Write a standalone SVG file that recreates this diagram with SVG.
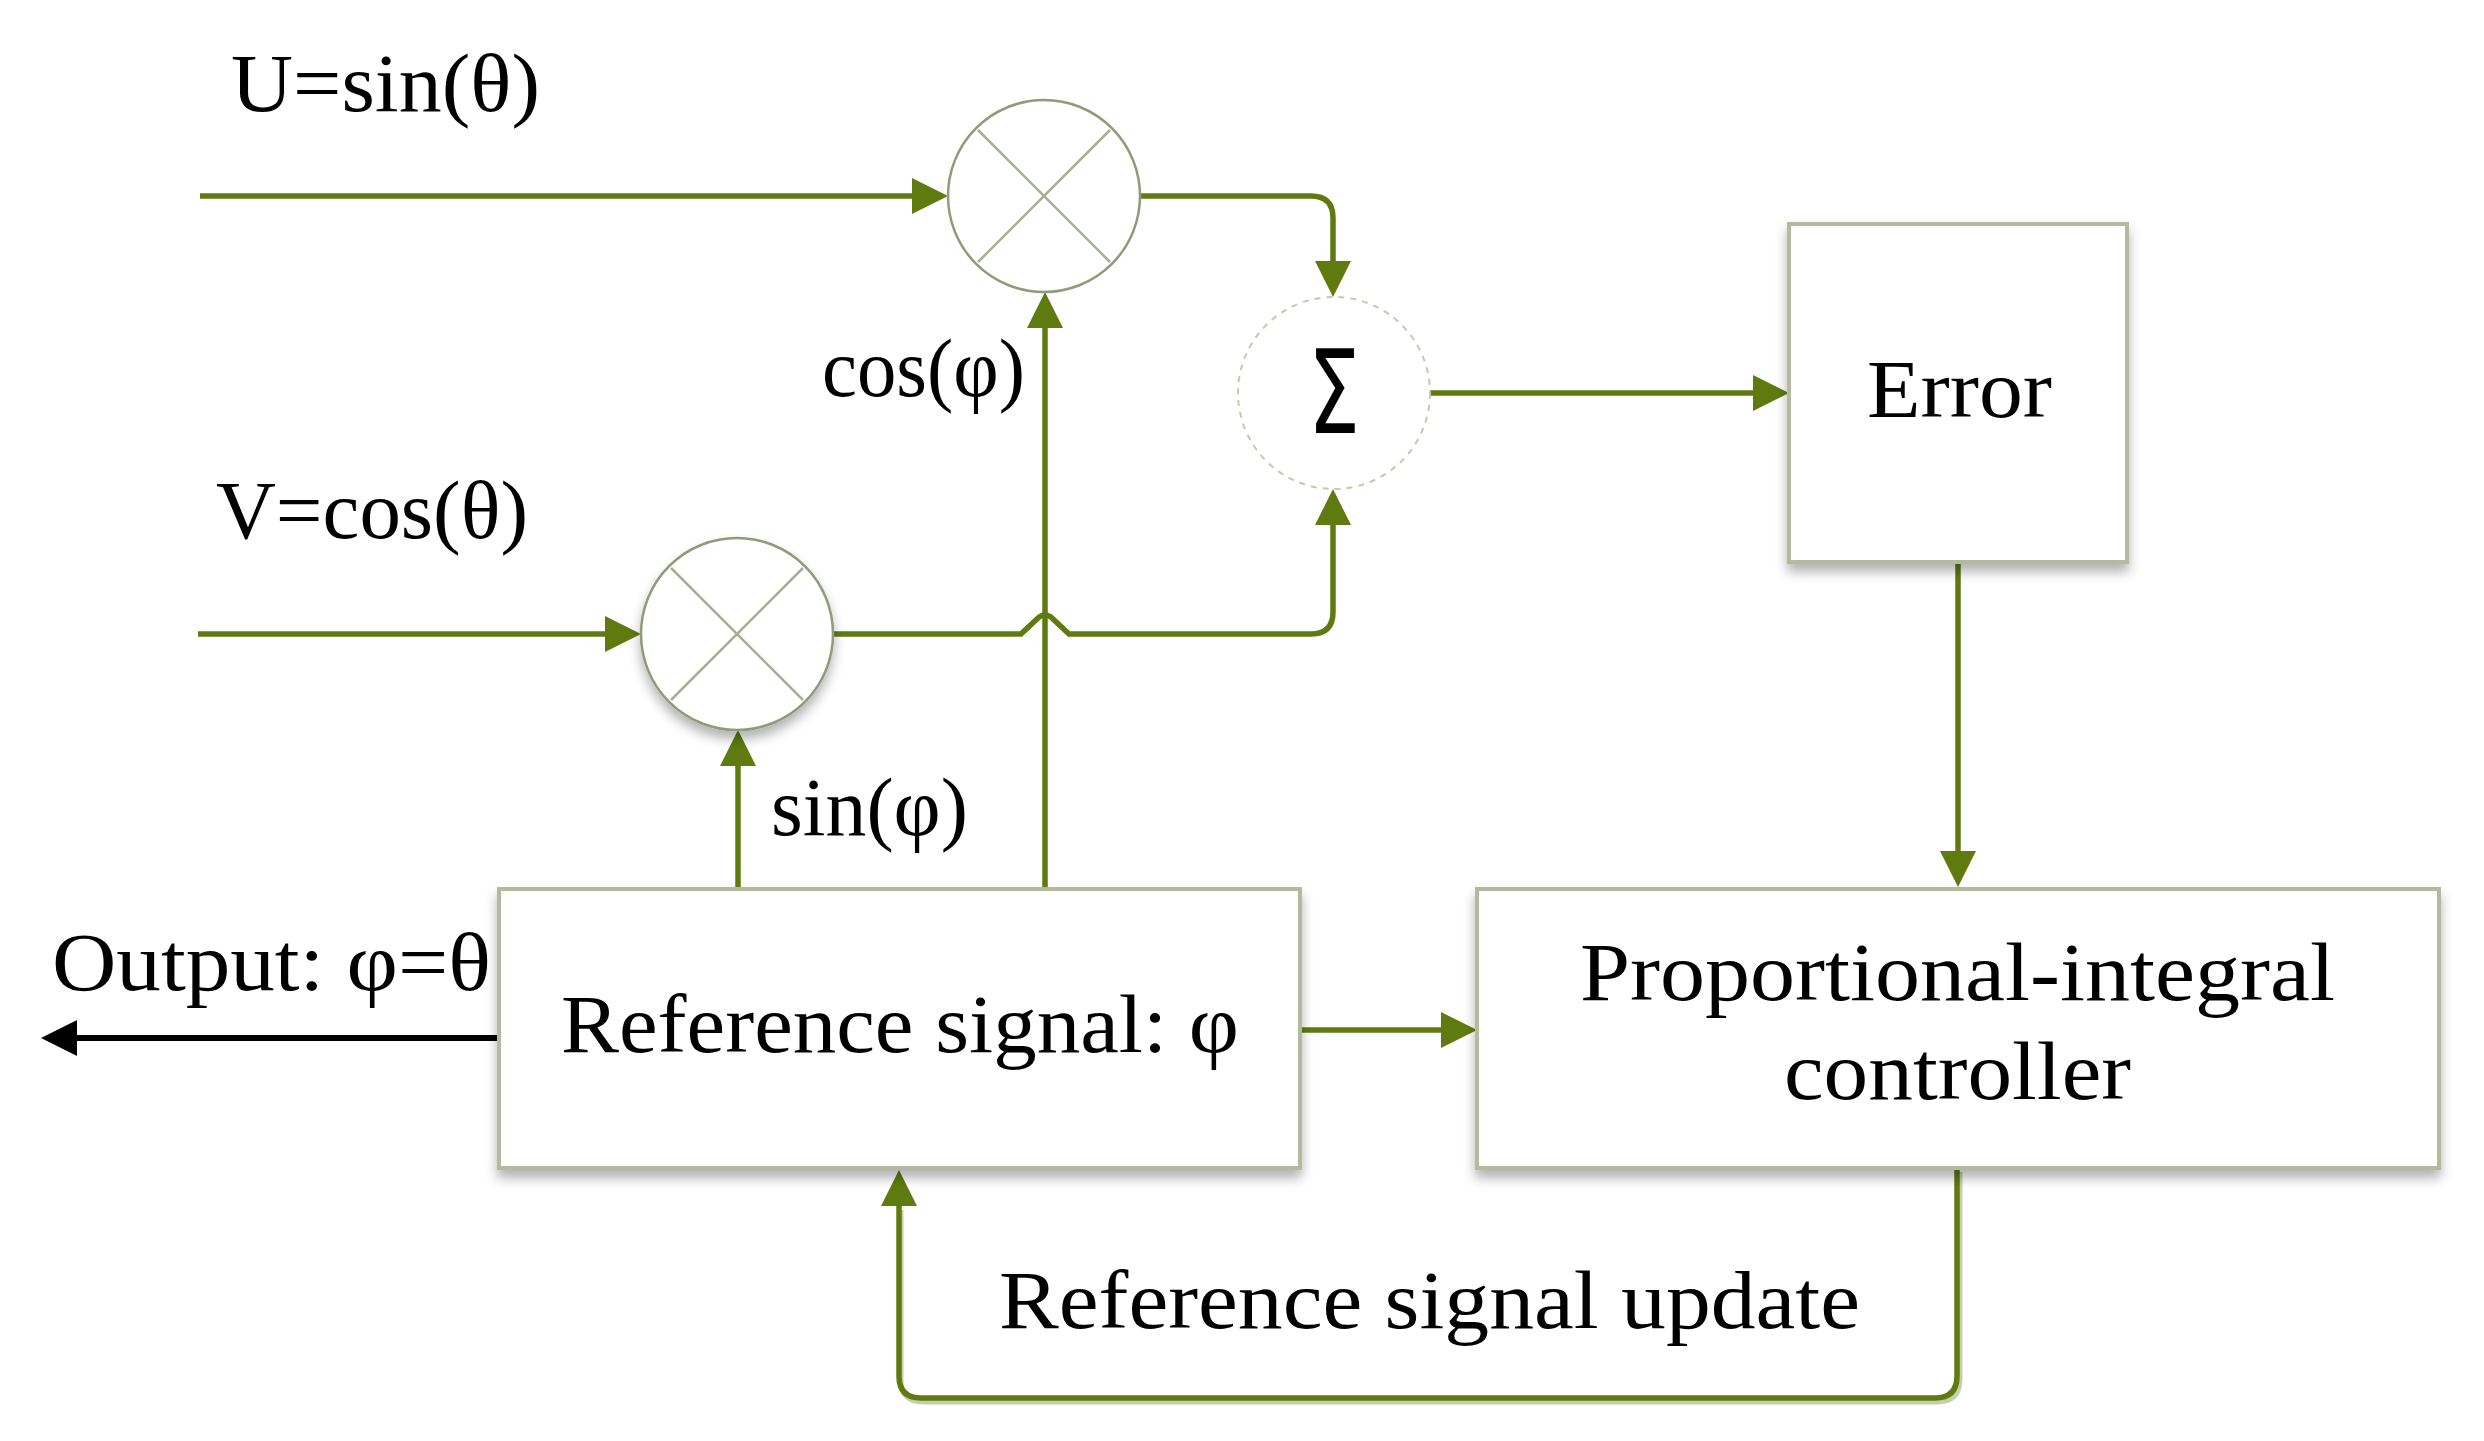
<svg xmlns="http://www.w3.org/2000/svg" width="2484" height="1441" viewBox="0 0 2484 1441">
<style>
.t{font-family:"Liberation Serif","Times New Roman",serif;font-size:83px;fill:#000}
.box{fill:#fff;stroke:#b3bb9c;stroke-width:4}
.c{fill:none;stroke:#5f7b10;stroke-width:5.5}
.cs{fill:none;stroke:#c6cfad;stroke-width:5}
.mul{fill:#fff;stroke:#8f9b78;stroke-width:2.5}
.x{stroke:#a7b092;stroke-width:2.5}
</style>
<defs>
<marker id="ah" markerUnits="userSpaceOnUse" viewBox="0 0 36 36" markerWidth="36" markerHeight="36" refX="30" refY="18" orient="auto">
<path d="M0,0 L36,18 L0,36 z" fill="#5f7b10"/>
</marker>
<marker id="ahk" markerUnits="userSpaceOnUse" viewBox="0 0 36 36" markerWidth="36" markerHeight="36" refX="30" refY="18" orient="auto">
<path d="M0,0 L36,18 L0,36 z" fill="#000"/>
</marker>
<filter id="sh" x="-20%" y="-20%" width="140%" height="150%">
<feDropShadow dx="0" dy="8" stdDeviation="6" flood-color="#000" flood-opacity="0.3"/>
</filter>
</defs>

<g id="connectors">
<path class="c" d="M200,196 H942" marker-end="url(#ah)"/>
<path class="c" d="M198,634 H635" marker-end="url(#ah)"/>
<path class="c" d="M1141,196 H1311 Q1333,196 1333,218 V291" marker-end="url(#ah)"/>
<path class="c" d="M834,634 H1021 L1038,618 Q1045,612 1052,618 L1069,634 H1311 Q1333,634 1333,612 V495" marker-end="url(#ah)"/>
<path class="c" d="M738,889 V736" marker-end="url(#ah)"/>
<path class="c" d="M1045,889 V298" marker-end="url(#ah)"/>
<path class="c" d="M1430,393 H1783" marker-end="url(#ah)"/>
<path class="c" d="M1958,562 V881" marker-end="url(#ah)"/>
<path class="c" d="M1300,1030 H1471" marker-end="url(#ah)"/>
<path class="cs" d="M1960,1172 V1379 Q1960,1402 1937,1402 H923 Q901,1402 901,1380 V1210"/>
<path class="c" d="M1957,1168 V1376 Q1957,1398 1935,1398 H921 Q899,1398 899,1376 V1176" marker-end="url(#ah)"/>
<path d="M499,1038 H47" fill="none" stroke="#000" stroke-width="6" marker-end="url(#ahk)"/>
</g>

<g id="mult-top">
<circle class="mul" cx="1044" cy="196" r="96"/>
<line class="x" x1="978" y1="130" x2="1110" y2="262"/>
<line class="x" x1="1110" y1="130" x2="978" y2="262"/>
</g>

<g id="mult-bottom">
<circle class="mul" cx="737" cy="634" r="96" filter="url(#sh)"/>
<line class="x" x1="671" y1="568" x2="803" y2="700"/>
<line class="x" x1="803" y1="568" x2="671" y2="700"/>
</g>

<g id="sum">
<circle cx="1334" cy="393" r="96" fill="#fff" stroke="#c3c9b3" stroke-width="2" stroke-dasharray="6,6"/>
<text x="1308" y="433" font-family="'DejaVu Sans',sans-serif" font-size="116" textLength="52" lengthAdjust="spacingAndGlyphs">Σ</text>
</g>

<g id="error">
<rect class="box" x="1789" y="224" width="338" height="338" filter="url(#sh)"/>
<text class="t" x="1867" y="417" textLength="185" lengthAdjust="spacingAndGlyphs">Error</text>
</g>

<g id="pi-controller">
<rect class="box" x="1477" y="889" width="962" height="279" filter="url(#sh)"/>
<text class="t" x="1580" y="1000" textLength="755" lengthAdjust="spacingAndGlyphs">Proportional-integral</text>
<text class="t" x="1784" y="1099" textLength="347" lengthAdjust="spacingAndGlyphs">controller</text>
</g>

<g id="reference-signal">
<rect class="box" x="499" y="889" width="801" height="279" filter="url(#sh)"/>
<text class="t" x="561" y="1052" textLength="678" lengthAdjust="spacingAndGlyphs">Reference signal: φ</text>
</g>

<g id="labels">
<text class="t" x="231" y="111" textLength="309" lengthAdjust="spacingAndGlyphs">U=sin(θ)</text>
<text class="t" x="216" y="538" textLength="312" lengthAdjust="spacingAndGlyphs">V=cos(θ)</text>
<text class="t" x="822" y="396" textLength="203" lengthAdjust="spacingAndGlyphs">cos(φ)</text>
<text class="t" x="771" y="835" textLength="197" lengthAdjust="spacingAndGlyphs">sin(φ)</text>
<text class="t" x="52" y="990" textLength="439" lengthAdjust="spacingAndGlyphs">Output: φ=θ</text>
<text class="t" x="999" y="1328" textLength="861" lengthAdjust="spacingAndGlyphs">Reference signal update</text>
</g>
</svg>
